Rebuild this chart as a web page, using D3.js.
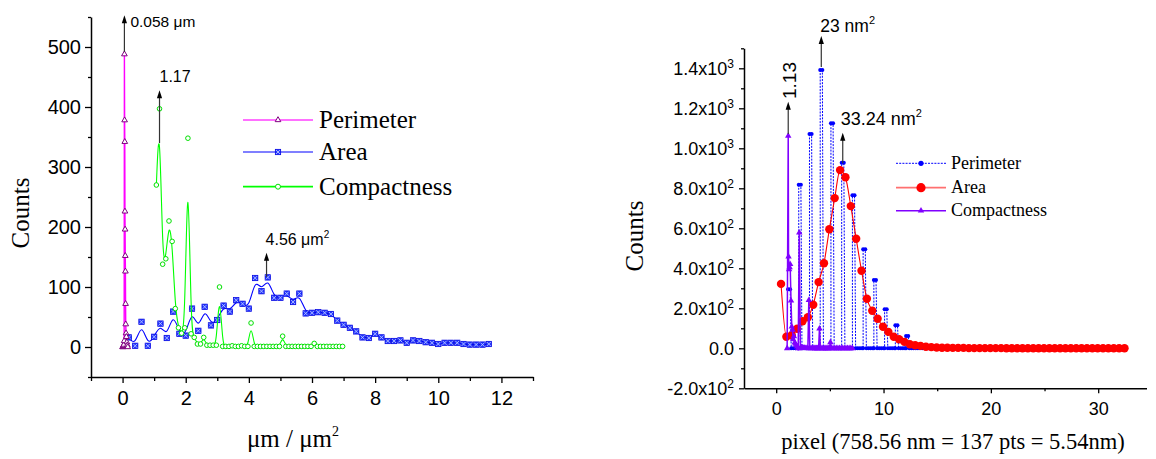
<!DOCTYPE html>
<html><head><meta charset="utf-8">
<script src="https://cdn.jsdelivr.net/npm/d3@7"></script>
<style>body{margin:0;background:#fff} svg{display:block}</style>
</head><body>
<svg id="c" width="1156" height="459"></svg>
<script>
// ---------------- LEFT PANEL DATA ----------------
const leftPerimX = [0.000,0.010,0.020,0.030,0.040,0.050,0.058,0.065,0.070,0.075,0.080,0.085,0.090,0.095,0.100,0.110,0.120,0.135,0.150,0.165];
const leftPerimY = [0,0,1,2,4,10,488,378,342,226,196,152,126,72,38,23,17,8,3,0];

const leftAreaX = [0.2,0.4,0.6,0.8,1.0,1.2,1.4,1.6,1.8,2.0,2.2,2.4,2.6,2.8,3.0,3.2,3.4,3.6,3.8,4.0,4.2,4.4,4.6,4.8,5.0,5.2,5.4,5.6,5.8,6.0,6.2,6.4,6.6,6.8,7.0,7.2,7.4,7.6,7.8,8.0,8.2,8.4,8.6,8.8,9.0,9.2,9.4,9.6,9.8,10.0,10.2,10.4,10.6,10.8,11.0,11.2,11.4,11.6];
const leftAreaY = [16,2,42,2,17,39,15,59,22,19,64,27,67,36,45,69,59,78,72,64,115,93,116,82,82,89,75,89,56,57,58,57,55,44,37,32,26,16,15,22,16,10,10,11,7,11,10,8,7,5,7,7,7,5,4,4,4,5];

const leftCompX = [1.07,1.17,1.27,1.37,1.47,1.57,1.67,1.77,1.87,1.97,2.07,2.17,2.27,2.37,2.47,2.57,2.67,2.77,2.87,2.97,3.07,3.17,3.27,3.37,3.47,3.57,3.67,3.77,3.87,3.97,4.07,4.17,4.27,4.37,4.47,4.57,4.67,4.77,4.87,4.97,5.07,5.17,5.27,5.37,5.47,5.57,5.67,5.77,5.87,5.97,6.07,6.17,6.27,6.37,6.47,6.57,6.67,6.77,6.87,6.97];
const leftCompY = [270,397,138,147,210,176,64,32,23,32,348,22,16,5,5,16,3,3,3,3,100,1,1,1,2,1,1,2,1,1,40,1,1,1,1,1,1,1,1,1,18,1,1,1,1,1,1,1,1,1,6,1,1,1,1,1,1,1,1,1];

const leftXTicks = [0,2,4,6,8,10,12];
const leftXMinor = [-1,1,3,5,7,9,11,13];
const leftYTicks = [0,100,200,300,400,500];
const leftYMinor = [-50,50,150,250,350,450,550];
const leftLegend = ["Perimeter","Area","Compactness"];

// ---------------- RIGHT PANEL DATA ----------------
// perimeter: each spike is drawn as a narrow up/down pair, zeros between spikes
const rightPerimX = [1.1,1.3,1.4,1.6,1.8,2.0,2.1,2.1,2.3,2.4,2.6,2.8,3.0,3.1,3.1,3.3,3.4,3.6,3.8,4.0,4.1,4.1,4.3,4.4,4.6,4.8,5.0,5.1,5.1,5.3,5.4,5.6,5.8,6.0,6.1,6.1,6.3,6.4,6.6,6.8,7.0,7.1,7.1,7.3,7.4,7.6,7.8,8.0,8.1,8.1,8.3,8.4,8.6,8.8,9.0,9.1,9.1,9.3,9.4,9.6,9.8,10.0,10.1,10.1,10.3,10.4,10.6,10.8,11.0,11.1,11.1,11.3,11.4,11.6,11.8,12.0,12.1,12.1,12.3,12.4,12.6,12.8,13.0,13.2,13.4,13.6,13.8,14.0,14.2,14.4,14.6,14.8,15.0,15.2];
const rightPerimY = [295,295,0,0,0,0,0,818,818,0,0,0,0,0,1071,1071,0,0,0,0,0,1391,1391,0,0,0,0,0,1125,1125,0,0,0,0,0,928,928,0,0,0,0,0,765,765,0,0,0,0,0,495,495,0,0,0,0,0,341,341,0,0,0,0,0,195,195,0,0,0,0,0,115,115,0,0,0,0,0,61,61,0,0,0,0,0,0,0,0,0,0,0,0,0,0,0];

const rightAreaX = [0.45,0.95,1.45,1.95,2.45,2.95,3.45,3.95,4.45,4.95,5.45,5.95,6.45,6.95,7.45,7.95,8.45,8.95,9.45,9.95,10.45,10.95,11.45,11.95,12.45,12.95,13.45,13.95,14.45,14.95,15.45,15.95,16.45,16.95,17.45,17.95,18.45,18.95,19.45,19.95,20.45,20.95,21.45,21.95,22.45,22.95,23.45,23.95,24.45,24.95,25.45,25.95,26.45,26.95,27.45,27.95,28.45,28.95,29.45,29.95,30.45,30.95,31.45,31.95,32.45];
const rightAreaY = [322,58,65,98,135,155,218,331,425,595,751,891,855,711,548,388,248,188,148,108,82,58,45,32,20,15,12,8,6,4,3,3,2,2,2,1,1,1,1,1,1,1,0,0,0,0,0,0,0,0,0,0,0,0,0,0,0,0,0,0,0,0,0,0,0];

const rightCompX = [1.02,1.12,1.15,1.20,1.25,1.30,1.38,1.45,1.52,1.58,1.65,1.72,1.80,1.88,1.96,2.05,2.15,2.25,2.35,2.45,2.55,2.65,2.75,2.85,2.95,3.04,3.13,3.25,3.35,3.45,3.55,3.65,3.75,3.85,3.95,4.03,4.12,4.25,4.35,4.45,4.55,4.65,4.75,4.85,4.95,5.05,5.15,5.30,5.45,5.60,5.75,5.90,6.05,6.20,6.35,6.50,6.65,6.80,6.95,7.10];
const rightCompY = [0,1062,458,395,405,421,238,108,92,45,60,28,22,15,8,0,578,0,5,3,2,2,1,1,0,241,0,1,1,0,0,0,0,0,0,98,0,0,0,0,0,0,0,0,0,30,0,0,0,0,0,0,0,0,0,0,0,0,0,0];

const rightXTicks = [0,10,20,30];
const rightXMinor = [5,15,25];
const rightYTicks = [-200,0,200,400,600,800,1000,1200,1400];
const rightYMinor = [-100,100,300,500,700,900,1100,1300,1500];
const rightLegend = ["Perimeter","Area","Compactness"];

// ---------------- DRAWING ----------------
const SANS = '"Liberation Sans", Arial, sans-serif';
const SERIF = '"Liberation Serif", "Times New Roman", serif';
const svg = d3.select('#c');

function zip(a,b){ const n=Math.min(a.length,b.length); const r=[]; for(let i=0;i<n;i++) r.push([a[i],b[i]]); return r; }

function styleAxis(g, fs){
  g.select('.domain').attr('stroke','#000').attr('stroke-width',1.5);
  g.selectAll('.tick line').attr('stroke','#000').attr('stroke-width',1.3);
  g.selectAll('.tick text').style('font-family',SANS).style('font-size',fs+'px').attr('fill','#000');
}

function arrow(g, x, y0, y1){
  g.append('line').attr('x1',x).attr('x2',x).attr('y1',y0).attr('y2',y1+6).attr('stroke','#333').attr('stroke-width',1.2);
  g.append('path').attr('d',`M${x},${y1}L${x-2.6},${y1+8}L${x+2.6},${y1+8}Z`).attr('fill','#000');
}

// ===== LEFT =====
const xL = d3.scaleLinear().domain([-1,13]).range([91,533]);
const yL = d3.scaleLinear().domain([-50,550]).range([377,17]);
const L = svg.append('g');

const gyL = L.append('g').attr('transform',`translate(${xL.range()[0]},0)`);
gyL.call(d3.axisLeft(yL).tickValues(leftYTicks).tickSize(6).tickSizeOuter(0).tickPadding(4).tickFormat(d3.format('d')));
styleAxis(gyL,20);
L.append('g').attr('transform',`translate(${xL.range()[0]},0)`)
  .call(d3.axisLeft(yL).tickValues(leftYMinor).tickSize(3).tickSizeOuter(0).tickFormat(''))
  .call(g=>{g.select('.domain').remove(); g.selectAll('line').attr('stroke','#000').attr('stroke-width',1.3);});

const gxL = L.append('g').attr('transform',`translate(0,${yL.range()[0]})`);
gxL.call(d3.axisBottom(xL).tickValues(leftXTicks).tickSize(6).tickSizeOuter(0).tickPadding(8).tickFormat(d3.format('d')));
styleAxis(gxL,20);
L.append('g').attr('transform',`translate(0,${yL.range()[0]})`)
  .call(d3.axisBottom(xL).tickValues(leftXMinor).tickSize(4).tickSizeOuter(0).tickFormat(''))
  .call(g=>{g.select('.domain').remove(); g.selectAll('line').attr('stroke','#000').attr('stroke-width',1.3);});

// axis titles
L.append('text').attr('transform','translate(29,213) rotate(-90)').attr('text-anchor','middle')
  .style('font-family',SERIF).style('font-size','25px').text('Counts');
const xtL = L.append('text').attr('x',293).attr('y',447).attr('text-anchor','middle')
  .style('font-family',SERIF).style('font-size','25px');
xtL.append('tspan').text('μm / μm');
xtL.append('tspan').attr('dy',-11).style('font-size','14px').text('2');

const bLine = d3.line().x(d=>xL(d[0])).y(d=>yL(d[1])).curve(d3.curveBasis);
const lLine = d3.line().x(d=>xL(d[0])).y(d=>yL(d[1]));

const areaL = zip(leftAreaX,leftAreaY);
const compL = zip(leftCompX,leftCompY);
const perimL = zip(leftPerimX,leftPerimY);

L.append('path').attr('d',bLine(areaL)).attr('fill','none').attr('stroke','#0000ff').attr('stroke-width',1.1);
function sqMark(g){
  g.append('rect').attr('x',-2.7).attr('y',-2.7).attr('width',5.4).attr('height',5.4).attr('fill','#2238ff').attr('stroke','#0000e0').attr('stroke-width',0.7);
  g.append('path').attr('d','M-2,-2L2,2M-2,2L2,-2').attr('stroke','#c8ceff').attr('stroke-width',0.8);
}
L.append('g').selectAll('g').data(areaL).join('g')
  .attr('transform',d=>`translate(${xL(d[0])},${yL(d[1])})`).each(function(){sqMark(d3.select(this));});

L.append('path').attr('d',bLine(compL)).attr('fill','none').attr('stroke','#00ff00').attr('stroke-width',1.1);
L.append('g').selectAll('circle').data(compL).join('circle')
  .attr('cx',d=>xL(d[0])).attr('cy',d=>yL(d[1])).attr('r',2.3)
  .attr('fill','#fff').attr('stroke','#00e000').attr('stroke-width',1);

L.append('path').attr('d',lLine(perimL)).attr('fill','none').attr('stroke','#ff00ff').attr('stroke-width',1.4);
const tri = d3.symbol(d3.symbolTriangle).size(14);
L.append('g').selectAll('path').data(perimL).join('path')
  .attr('d',tri).attr('transform',d=>`translate(${xL(d[0])},${yL(d[1])})`)
  .attr('fill','#fff').attr('stroke','#800080').attr('stroke-width',1);

// annotations left
arrow(L, xL(0.058), yL(492), yL(553));
L.append('text').attr('x',xL(0.058)+6).attr('y',27).style('font-family',SANS).style('font-size','15.5px').text('0.058 μm');
arrow(L, xL(1.17), yL(340), yL(428));
L.append('text').attr('x',xL(1.17)).attr('y',82).style('font-family',SANS).style('font-size','16px').text('1.17');
arrow(L, xL(4.56), yL(117), yL(157));
const a456 = L.append('text').attr('x',xL(4.56)-1).attr('y',245).style('font-family',SANS).style('font-size','16px');
a456.append('tspan').text('4.56 μm');
a456.append('tspan').attr('dy',-7).style('font-size','10px').text('2');

// legend left
const legLColors = [['#ff70ff',2],['#0000ff',1.1],['#00ff00',1.8]];
const legLRows = [120,152,186.7];
leftLegend.forEach((name,i)=>{
  const y = legLRows[i];
  L.append('line').attr('x1',243).attr('x2',313).attr('y1',y).attr('y2',y).attr('stroke',legLColors[i][0]).attr('stroke-width',legLColors[i][1]);
  const g = L.append('g').attr('transform',`translate(278,${y})`);
  if(i===0) g.append('path').attr('d',tri).attr('fill','#fff').attr('stroke','#800080').attr('stroke-width',1);
  if(i===1) sqMark(g);
  if(i===2) g.append('circle').attr('r',2.5).attr('fill','#fff').attr('stroke','#00e000').attr('stroke-width',1);
  L.append('text').attr('x',319).attr('y',y+8).style('font-family',SERIF).style('font-size','25px').text(name);
});

// ===== RIGHT =====
const xR = d3.scaleLinear().domain([-3,34.5]).range([744,1146.5]);
const yR = d3.scaleLinear().domain([-200,1500]).range([388.3,48.3]);
const R = svg.append('g');

const gyR = R.append('g').attr('transform',`translate(${xR.range()[0]},0)`);
gyR.call(d3.axisLeft(yR).tickValues(rightYTicks).tickSize(5).tickSizeOuter(0).tickPadding(5).tickFormat(''));
styleAxis(gyR,18);
gyR.selectAll('.tick text').each(function(d){
  const t = d3.select(this);
  if(d===0){ t.text('0.0'); return; }
  const e = Math.floor(Math.log10(Math.abs(d)));
  const m = d/Math.pow(10,e);
  t.append('tspan').text(m.toFixed(1)+'x10');
  t.append('tspan').attr('dy','-0.55em').style('font-size','12px').text(e);
});
R.append('g').attr('transform',`translate(${xR.range()[0]},0)`)
  .call(d3.axisLeft(yR).tickValues(rightYMinor).tickSize(3).tickSizeOuter(0).tickFormat(''))
  .call(g=>{g.select('.domain').remove(); g.selectAll('line').attr('stroke','#000').attr('stroke-width',1.3);});

const gxR = R.append('g').attr('transform',`translate(0,${yR.range()[0]})`);
gxR.call(d3.axisBottom(xR).tickValues(rightXTicks).tickSize(5).tickSizeOuter(0).tickPadding(9).tickFormat(d3.format('d')));
styleAxis(gxR,18);
R.append('g').attr('transform',`translate(0,${yR.range()[0]})`)
  .call(d3.axisBottom(xR).tickValues(rightXMinor).tickSize(3).tickSizeOuter(0).tickFormat(''))
  .call(g=>{g.select('.domain').remove(); g.selectAll('line').attr('stroke','#000').attr('stroke-width',1.3);});

R.append('text').attr('transform','translate(643,236) rotate(-90)').attr('text-anchor','middle')
  .style('font-family',SERIF).style('font-size','25px').text('Counts');
R.append('text').attr('x',953).attr('y',449).attr('text-anchor','middle')
  .style('font-family',SERIF).style('font-size','22.5px').text('pixel (758.56 nm = 137 pts = 5.54nm)');

const rLin = d3.line().x(d=>xR(d[0])).y(d=>yR(d[1]));
const rCat = d3.line().x(d=>xR(d[0])).y(d=>yR(d[1])).curve(d3.curveMonotoneX);
const perimR = zip(rightPerimX,rightPerimY);
const areaR = zip(rightAreaX,rightAreaY);
const compR = zip(rightCompX,rightCompY);

R.append('path').attr('d',rLin(perimR)).attr('fill','none').attr('stroke','#0000ff').attr('stroke-width',1).attr('stroke-dasharray','2,1.2');
R.append('g').selectAll('circle').data(perimR).join('circle')
  .attr('cx',d=>xR(d[0])).attr('cy',d=>yR(d[1])).attr('r',2).attr('fill','#0000ff');

R.append('path').attr('d',rCat(areaR)).attr('fill','none').attr('stroke','#ff0000').attr('stroke-width',1.1);
R.append('g').selectAll('circle').data(areaR).join('circle')
  .attr('cx',d=>xR(d[0])).attr('cy',d=>yR(d[1])).attr('r',4.2).attr('fill','#ff0000');

R.append('path').attr('d',rLin(compR)).attr('fill','none').attr('stroke','#8000ff').attr('stroke-width',1.5);
const triF = d3.symbol(d3.symbolTriangle).size(18);
R.append('g').selectAll('path').data(compR).join('path')
  .attr('d',triF).attr('transform',d=>`translate(${xR(d[0])},${yR(d[1])})`).attr('fill','#8000ff');

// annotations right
arrow(R, xR(4.2), yR(1391)-3, 36);
const a23 = R.append('text').attr('x',xR(4.2)-1).attr('y',31.5).style('font-family',SANS).style('font-size','17.5px');
a23.append('tspan').text('23 nm');
a23.append('tspan').attr('dy',-8).style('font-size','11px').text('2');
arrow(R, xR(6.2), yR(925), yR(1078));
const a33 = R.append('text').attr('x',xR(6.2)-2).attr('y',125).style('font-family',SANS).style('font-size','18px');
a33.append('tspan').text('33.24 nm');
a33.append('tspan').attr('dy',-8).style('font-size','11px').text('2');
arrow(R, xR(1.12), yR(1072), yR(1233));
R.append('text').attr('transform',`translate(${xR(1.12)+8},99) rotate(-90)`).style('font-family',SANS).style('font-size','19px').text('1.13');

// legend right
const legRRows = [163.3,187.7,210.7];
rightLegend.forEach((name,i)=>{
  const y = legRRows[i];
  const ln = R.append('line').attr('x1',896).attr('x2',946).attr('y1',y).attr('y2',y);
  if(i===0){ ln.attr('stroke','#0000ff').attr('stroke-width',1).attr('stroke-dasharray','2,1.2');
    R.append('circle').attr('cx',921).attr('cy',y).attr('r',2.6).attr('fill','#0000ff'); }
  if(i===1){ ln.attr('stroke','#ff7070').attr('stroke-width',1.8);
    R.append('circle').attr('cx',921).attr('cy',y).attr('r',4.6).attr('fill','#ff0000'); }
  if(i===2){ ln.attr('stroke','#8000ff').attr('stroke-width',1.4);
    R.append('path').attr('d',triF).attr('transform',`translate(921,${y})`).attr('fill','#8000ff'); }
  R.append('text').attr('x',951).attr('y',y+5.5).style('font-family',SERIF).style('font-size','18px').text(name);
});
</script>
</body></html>
